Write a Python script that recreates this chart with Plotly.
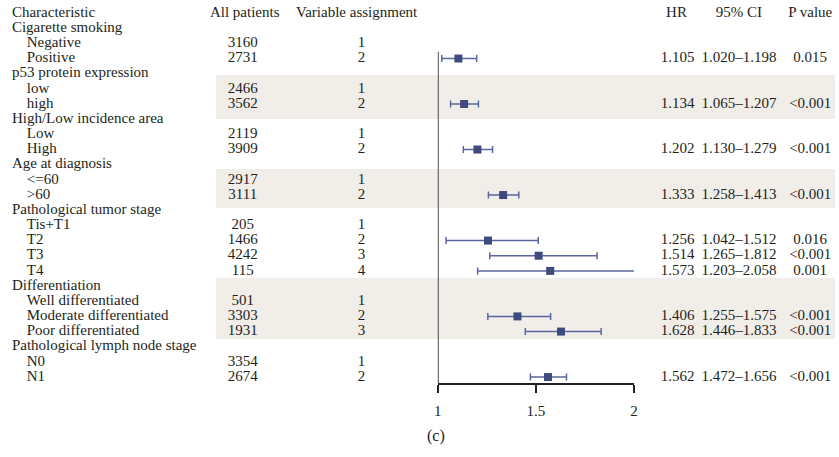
import plotly.graph_objects as go

# ---------------- data ----------------
headers = ["Characteristic", "All patients", "Variable assignment", "HR", "95% CI", "P value"]
group_names = ["Cigarette smoking", "p53 protein expression", "High/Low incidence area",
               "Age at diagnosis", "Pathological tumor stage", "Differentiation",
               "Pathological lymph node stage"]
sub_labels = [["Negative", "Positive"], ["low", "high"], ["Low", "High"], ["<=60", ">60"],
              ["Tis+T1", "T2", "T3", "T4"],
              ["Well differentiated", "Moderate differentiated", "Poor differentiated"],
              ["N0", "N1"]]
patients = [[3160, 2731], [2466, 3562], [2119, 3909], [2917, 3111],
            [205, 1466, 4242, 115], [501, 3303, 1931], [3354, 2674]]
assignment = [[1, 2], [1, 2], [1, 2], [1, 2], [1, 2, 3, 4], [1, 2, 3], [1, 2]]
hr = [[None, 1.105], [None, 1.134], [None, 1.202], [None, 1.333],
      [None, 1.256, 1.514, 1.573], [None, 1.406, 1.628], [None, 1.562]]
ci_low = [[None, 1.020], [None, 1.065], [None, 1.130], [None, 1.258],
          [None, 1.042, 1.265, 1.203], [None, 1.255, 1.446], [None, 1.472]]
ci_high = [[None, 1.198], [None, 1.207], [None, 1.279], [None, 1.413],
           [None, 1.512, 1.812, 2.058], [None, 1.575, 1.833], [None, 1.656]]
p_values = [[None, "0.015"], [None, "<0.001"], [None, "<0.001"], [None, "<0.001"],
            [None, "0.016", "<0.001", "0.001"], [None, "<0.001", "<0.001"], [None, "<0.001"]]
x_ticks = [1, 1.5, 2]
panel_label = "(c)"

# ---------------- layout helpers ----------------
W, H = 839, 457
ROW0, ROWH = 13.0, 15.17          # pixel centre of header row, row spacing
AXIS_Y = 383.0                     # pixel of the x-axis line
X1_PX, X2_PX = 438.0, 636.0        # pixel positions of HR = 1 and HR = 2

def esc(s):
    return s.replace("<", "&lt;").replace(">", "&gt;")

grp_rows, grp_text = [], []
item_rows, item_text, pat_text, asg_text = [], [], [], []
f_rows, f_hr, f_lo, f_hi, f_hrtxt, f_citxt, f_ptxt = [], [], [], [], [], [], []
r = 1
for g, name in enumerate(group_names):
    grp_rows.append(r); grp_text.append(name); r += 1
    for k, lab in enumerate(sub_labels[g]):
        item_rows.append(r); item_text.append(esc(lab))
        pat_text.append(str(patients[g][k])); asg_text.append(str(assignment[g][k]))
        if hr[g][k] is not None:
            f_rows.append(r); f_hr.append(hr[g][k]); f_lo.append(ci_low[g][k]); f_hi.append(ci_high[g][k])
            f_hrtxt.append(f"{hr[g][k]:.3f}")
            f_citxt.append(f"{ci_low[g][k]:.3f}\u2013{ci_high[g][k]:.3f}")
            f_ptxt.append(esc(p_values[g][k]))
        r += 1

FONT = dict(family="Liberation Serif", size=15, color="#231f20")
fig = go.Figure()

def col(xpx, rows, texts, pos="middle center"):
    fig.add_trace(go.Scatter(x=[xpx] * len(rows), y=rows, text=texts, mode="text",
                             textposition=pos, textfont=FONT, xaxis="x2", yaxis="y",
                             hoverinfo="skip", showlegend=False, cliponaxis=False))

col(8, [0], [headers[0]], "middle right")
col(243, [0], [headers[1]])
col(356, [0], [headers[2]])
col(679, [0], [headers[3]])
col(742, [0], [headers[4]])
col(814, [0], [headers[5]])
col(8, grp_rows, grp_text, "middle right")
col(23, item_rows, item_text, "middle right")
col(241, item_rows, pat_text)
col(361, item_rows, asg_text)
col(680, f_rows, f_hrtxt)
col(742, f_rows, f_citxt)
col(814, f_rows, f_ptxt)

fig.add_trace(go.Scatter(
    x=f_hr, y=f_rows, mode="markers",
    marker=dict(symbol="square", size=8, color="#3f4a7e"),
    error_x=dict(type="data", symmetric=False,
                 array=[h - m for h, m in zip(f_hi, f_hr)],
                 arrayminus=[m - l for m, l in zip(f_hr, f_lo)],
                 color="#5a679e", thickness=1.5, width=3.5),
    xaxis="x", yaxis="y", cliponaxis=False, showlegend=False, hoverinfo="skip"))

band_px = [(75, 119), (169, 208), (278, 339)]
shapes = []
for (a, b) in band_px:
    shapes.append(dict(type="rect", xref="paper", yref="paper", x0=214 / W, x1=1,
                       y0=1 - a / H, y1=1 - b / H,
                       fillcolor="#f1eeea", line=dict(width=0), layer="below"))
shapes.append(dict(type="line", xref="x", yref="y", x0=1, x1=1,
                   y0=2.55, y1=(AXIS_Y - ROW0) / ROWH,
                   line=dict(color="#231f20", width=1.6)))

y_top = -ROW0 / ROWH
y_bot = (AXIS_Y - ROW0) / ROWH
fig.update_layout(
    width=W, height=H, margin=dict(l=0, r=0, t=0, b=0),
    paper_bgcolor="white", plot_bgcolor="rgba(0,0,0,0)",
    shapes=shapes,
    xaxis=dict(domain=[X1_PX / W, X2_PX / W], range=[1, 2], anchor="y",
               tickvals=x_ticks, ticktext=[str(t) for t in x_ticks],
               showline=True, linecolor="#231f20", linewidth=1.6,
               ticks="outside", ticklen=8, tickwidth=1.6, tickcolor="#231f20",
               ticklabelstandoff=5,
               showgrid=False, zeroline=False, tickfont=FONT),
    xaxis2=dict(domain=[0, 1], range=[0, W], anchor="y", visible=False),
    yaxis=dict(domain=[1 - AXIS_Y / H, 1], range=[y_bot, y_top], visible=False,
               showgrid=False, zeroline=False),
    annotations=[dict(text=panel_label, xref="paper", yref="paper",
                      x=436 / W, y=1 - 436 / H, showarrow=False,
                      font=dict(FONT, size=16),
                      xanchor="center", yanchor="middle")],
)
fig.write_html("out.html")
